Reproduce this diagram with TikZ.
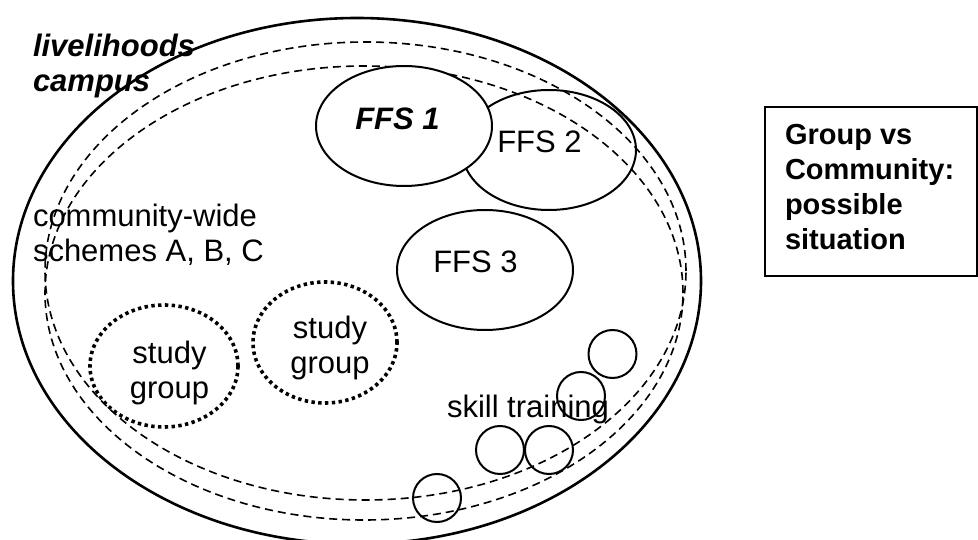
\documentclass[tikz,border=0pt]{standalone}
\usepackage{fontspec}
\setmainfont{Liberation Sans}
\usetikzlibrary{shapes.geometric}
\begin{document}
\begin{tikzpicture}[x=1pt,y=-1pt,
  every node/.style={inner sep=0pt, outer sep=0pt},
  oval/.style={draw, ellipse, line width=2pt},
  campusline/.style={draw, ellipse, line width=2.6pt},
  zone/.style={draw, ellipse, line width=1.6pt, dash pattern=on 8pt off 5pt},
  studyoval/.style={draw, ellipse, line width=3.6pt, dash pattern=on 3.4pt off 3.4pt},
  skillcircle/.style={draw, circle, line width=2pt, minimum size=48pt},
  bigtext/.style={font=\fontsize{31}{35}\selectfont},
  boxtext/.style={font=\fontsize{29}{35}\selectfont\bfseries}]
\useasboundingbox (0,0) rectangle (978,540);

% campus boundary and the two community-wide zones
\node[campusline, minimum width=688pt, minimum height=526pt] (campus) at (357,281) {};
\node[zone, minimum width=641pt, minimum height=458pt] (zoneA) at (365.5,271) {};
\node[zone, minimum width=638pt, minimum height=454pt] (zoneB) at (364,293) {};

% farmer field schools
\node[oval, minimum width=174pt, minimum height=120pt] (ffs2) at (549,150) {};
\node[oval, fill=white, minimum width=176pt, minimum height=120pt] (ffs1) at (404,126) {};
\node[oval, minimum width=176pt, minimum height=120pt] (ffs3) at (485,270) {};

% study groups
\node[studyoval, minimum width=148pt, minimum height=122pt] (sg1) at (164,366) {};
\node[studyoval, minimum width=144pt, minimum height=121pt] (sg2) at (325,342.5) {};

% skill training circles
\node[skillcircle] (sk1) at (612.5,354) {};
\node[skillcircle] (sk2) at (581,396) {};
\node[skillcircle] (sk3) at (500,450) {};
\node[skillcircle] (sk4) at (549,450) {};
\node[skillcircle] (sk5) at (437,498) {};

% labels
\node[bigtext, anchor=base west] (campuslbl) at (33,57)
  {\bfseries\itshape\begin{tabular}[t]{@{}l@{}}livelihoods\\campus\end{tabular}};
\node[bigtext, anchor=base west] (schemeslbl) at (33,227)
  {\begin{tabular}[t]{@{}l@{}}community-wide\\schemes A, B, C\end{tabular}};
\node[bigtext, anchor=base] (ffs1lbl) at (397.5,130) {\bfseries\itshape FFS 1};
\node[bigtext, anchor=base] (ffs2lbl) at (539.5,153) {FFS 2};
\node[bigtext, anchor=base] (ffs3lbl) at (475.5,273) {FFS 3};
\node[bigtext, anchor=base] (sg1lbl) at (169.5,363)
  {\begin{tabular}[t]{@{}c@{}}study\\group\end{tabular}};
\node[bigtext, anchor=base] (sg2lbl) at (330,338)
  {\begin{tabular}[t]{@{}c@{}}study\\group\end{tabular}};
\node[bigtext, anchor=base west] (skilllbl) at (447,417) {skill training};

% title box
\node[draw, line width=2pt, minimum width=212pt, minimum height=169pt] (titlebox) at (871,191.5) {};
\node[boxtext, anchor=base west] (titlelbl) at (785,145)
  {\begin{tabular}[t]{@{}l@{}}Group vs\\Community:\\possible\\situation\end{tabular}};
\end{tikzpicture}
\end{document}
